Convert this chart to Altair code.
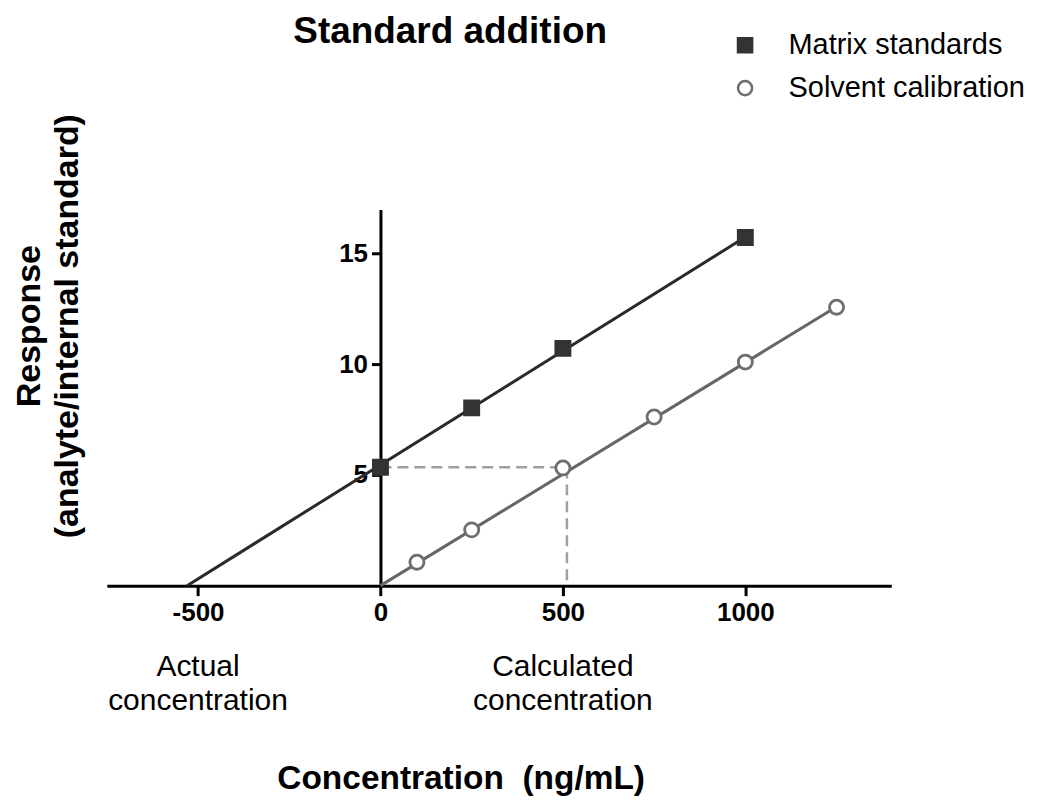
import altair as alt
import pandas as pd

FONT = "Liberation Sans"

# ---- data ----
series_names = ["Matrix standards", "Solvent calibration"]

matrix_x = [0, 250, 500, 1000]
matrix_y = [5.35, 8.03, 10.72, 15.73]

solvent_x = [100, 250, 500, 750, 1000, 1250]
solvent_y = [1.06, 2.52, 5.32, 7.62, 10.1, 12.58]

matrix_fit_x = [-530, 1000]
matrix_fit_y = [0, 15.75]

solvent_fit_x = [0, 1250]
solvent_fit_y = [0, 12.6]

dash_x = [0, 511, 511]
dash_y = [5.35, 5.35, 0]

x_ticks = [-500, 0, 500, 1000]
y_ticks = [5, 10, 15]

annot_x = [-500, 500]
annot_text = ["Actual\nconcentration", "Calculated\nconcentration"]

title_text = "Standard addition"
x_title = "Concentration\u00a0 (ng/mL)"
y_title = "Response\n(analyte/internal standard)"

# ---- layout ----
W, H = 786, 377
X_DOMAIN = [-750, 1400]
Y_DOMAIN = [0, 17]
Y_AXIS_OFFSET = -W * (0 - X_DOMAIN[0]) / (X_DOMAIN[1] - X_DOMAIN[0])

x_scale = alt.Scale(domain=X_DOMAIN, nice=False, zero=False)
y_scale = alt.Scale(domain=Y_DOMAIN, nice=False, zero=False)

x_axis = alt.Axis(values=x_ticks, title=None, grid=False, domainColor="black", domainWidth=3,
                  tickColor="black", tickWidth=3, tickSize=10, labelFont=FONT, labelFontWeight="bold",
                  labelFontSize=26, labelColor="black", labelPadding=4, labelFlush=False,
                  labelOverlap=False, labelExpr="'' + datum.value")
y_axis = alt.Axis(values=y_ticks, title=None, grid=False, domainColor="black", domainWidth=3,
                  tickColor="black", tickWidth=3, tickSize=9, labelFont=FONT, labelFontWeight="bold",
                  labelFontSize=26, labelColor="black", labelPadding=4, offset=Y_AXIS_OFFSET,
                  labelOverlap=False, labelExpr="'' + datum.value")


def X(field="x"):
    return alt.X(f"{field}:Q", scale=x_scale, axis=x_axis)


def Y(field="y"):
    return alt.Y(f"{field}:Q", scale=y_scale, axis=y_axis)


pts = pd.DataFrame({
    "x": matrix_x + solvent_x,
    "y": matrix_y + solvent_y,
    "series": [series_names[0]] * len(matrix_x) + [series_names[1]] * len(solvent_x),
})

dash_df = pd.DataFrame({"x": dash_x, "y": dash_y, "i": list(range(len(dash_x)))})
mfit = pd.DataFrame({"x": matrix_fit_x, "y": matrix_fit_y})
sfit = pd.DataFrame({"x": solvent_fit_x, "y": solvent_fit_y})
annot = pd.DataFrame({"x": annot_x, "label": annot_text})

legend = alt.Legend(title=None, orient="none", legendX=625, legendY=-179, padding=0,
                    labelFont=FONT, labelFontSize=29, labelColor="black", labelOffset=29,
                    labelLimit=400, symbolSize=200, symbolStrokeWidth=2.5, rowPadding=13,
                    symbolOpacity=1)

dashed = alt.Chart(dash_df).mark_line(color="#a0a0a0", strokeWidth=2.5, strokeDash=[11, 6]).encode(
    x=X(), y=Y(), order="i:O")

mline = alt.Chart(mfit).mark_line(color="#2a2a2a", strokeWidth=3).encode(x=X(), y=Y())
sline = alt.Chart(sfit).mark_line(color="#666666", strokeWidth=3).encode(x=X(), y=Y())

points = alt.Chart(pts).mark_point(size=200, strokeWidth=2.8, opacity=1).encode(
    x=X(), y=Y(),
    shape=alt.Shape("series:N", scale=alt.Scale(domain=series_names, range=["square", "circle"]),
                    legend=legend),
    color=alt.Color("series:N", scale=alt.Scale(domain=series_names, range=["#333333", "#6e6e6e"]),
                    legend=legend),
    fill=alt.Fill("series:N", scale=alt.Scale(domain=series_names, range=["#333333", "#ffffff"]),
                  legend=legend),
)

annots = alt.Chart(annot).mark_text(font=FONT, fontSize=30, lineBreak="\n",
                                    lineHeight=34, align="center", baseline="alphabetic",
                                    color="black").encode(
    x=X(), y=alt.value(468), text="label:N")

one = pd.DataFrame({"t": [0]})

title = alt.Chart(one).mark_text(text=title_text, font=FONT, fontSize=37, fontWeight="bold",
                                 align="center", baseline="alphabetic", color="black").encode(
    x=alt.value(344), y=alt.value(-167))

xtitle = alt.Chart(one).mark_text(text=x_title, font=FONT, fontSize=33.5, fontWeight="bold",
                                  align="center", baseline="alphabetic",
                                  color="black").encode(
    x=alt.value(355), y=alt.value(581))

ytitle = alt.Chart(one).mark_text(text=y_title, font=FONT, fontSize=34, fontWeight="bold",
                                  lineBreak="\n", lineHeight=38, angle=270,
                                  align="center", baseline="alphabetic", color="black").encode(
    x=alt.value(-67), y=alt.value(117))

chart = alt.layer(dashed, mline, sline, points, annots, title, xtitle, ytitle).properties(
    width=W, height=H,
    background="white",
    autosize=alt.AutoSizeParams(type="none"),
    padding={"left": 99, "top": 201, "right": 145, "bottom": 216},
).configure_view(strokeWidth=0, stroke=None)

chart.save("out.html", embed_options={"renderer": "svg", "actions": False})
